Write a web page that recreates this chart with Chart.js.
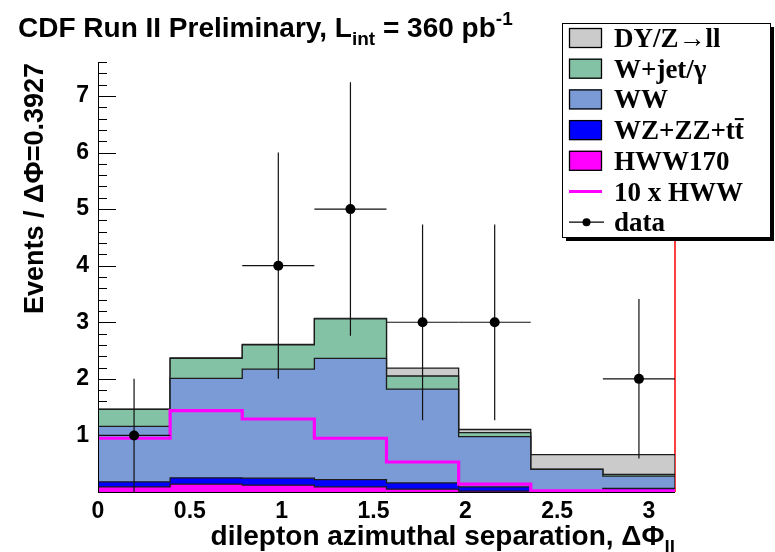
<!DOCTYPE html>
<html>
<head>
<meta charset="utf-8">
<script src="https://cdn.jsdelivr.net/npm/chart.js@4.4.1/dist/chart.umd.min.js"></script>
<style>
  html, body { margin: 0; padding: 0; background: #ffffff; }
  #c { display: block; }
</style>
</head>
<body>
<canvas id="c" width="775" height="552"></canvas>
<script>
// Bin edges in delta-phi (8 bins of 0.3927 rad between 0 and pi)
const binEdges = [0, 0.3927, 0.7854, 1.1781, 1.5708, 1.9635, 2.3562, 2.7489, 3.1416];

// Expected events per bin, by process (stacked bottom to top)
const hww170   = [0.09, 0.14, 0.12, 0.09, 0.05, 0.015, 0.002, 0.002];
const wzZzTt   = [0.09, 0.11, 0.125, 0.13, 0.11, 0.075, 0.01, 0.06];
const wwBkg    = [0.98, 1.76, 1.925, 2.14, 1.66, 0.89, 0.388, 0.218];
const wJetGam  = [0.30, 0.35, 0.43, 0.70, 0.23, 0.07, 0.005, 0.03];
const dyZll    = [0.005, 0.01, 0.01, 0.01, 0.14, 0.055, 0.255, 0.35];

// Higgs signal scaled by 10, drawn as an outline
const hwwTimes10 = [0.95, 1.44, 1.29, 0.95, 0.53, 0.14, 0.02, 0.02];

// Observed events and their errors
const dataCounts = [1, 0, 4, 5, 3, 3, 0, 2];
const dataErrors = [1.0, 0, 2.0, 2.24, 1.73, 1.73, 0, 1.41];

// Axis ticks
const xTickValues = [0, 0.5, 1, 1.5, 2, 2.5, 3];
const yTickValues = [1, 2, 3, 4, 5, 6, 7];

const FONT_SANS = '"Liberation Sans", Arial, sans-serif';
const FONT_SERIF = '"Liberation Serif", "Times New Roman", serif';

// cumulative sums for the stack
function addArrays(a, b) { return a.map((v, i) => v + b[i]); }
const cumHww = hww170.slice();
const cumWz  = addArrays(cumHww, wzZzTt);
const cumWw  = addArrays(cumWz, wwBkg);
const cumWj  = addArrays(cumWw, wJetGam);
const cumDy  = addArrays(cumWj, dyZll);

// histogram outline points (closed down to zero at both ends)
function stepPoints(vals) {
  const last = binEdges[binEdges.length - 1];
  const pts = [{ x: binEdges[0], y: 0 }];
  vals.forEach((v, i) => pts.push({ x: binEdges[i], y: v }));
  pts.push({ x: last, y: vals[vals.length - 1] });
  pts.push({ x: last, y: 0 });
  return pts;
}
function openStepPoints(vals) {
  const pts = [];
  vals.forEach((v, i) => pts.push({ x: binEdges[i], y: v }));
  pts.push({ x: binEdges[binEdges.length - 1], y: vals[vals.length - 1] });
  return pts;
}

const centers = dataCounts.map((_, i) => (binEdges[i] + binEdges[i + 1]) / 2);
const dataPoints = dataCounts
  .map((n, i) => ({ x: centers[i], y: n, e: dataErrors[i], lo: binEdges[i], hi: binEdges[i + 1] }))
  .filter(p => p.y > 0);

const COLORS = {
  dy: '#cbcbcb',
  wjet: '#84c2a5',
  ww: '#7a9bd5',
  wz: '#0000ff',
  hww: '#ff00ff',
  outline: '#1c1c1c'
};

// 'before' in Chart.js: horizontal at the previous level, then vertical
function histDataset(label, vals, color) {
  return {
    label, data: stepPoints(vals), stepped: 'before', fill: 'origin',
    backgroundColor: color, borderColor: COLORS.outline, borderWidth: 1.3,
    pointRadius: 0, tension: 0
  };
}

// ticks and the red right edge underneath the stack, axis lines on top
const underlayPlugin = {
  id: 'underlay',
  beforeDatasetsDraw(chart) {
    const { ctx, chartArea: a, scales: { y } } = chart;
    ctx.save();
    ctx.strokeStyle = '#000';
    ctx.lineWidth = 1;
    for (let k = 0; k <= 38; k++) {
      const v = k * 0.2;
      const py = Math.round(y.getPixelForValue(v)) + 0.5;
      const major = Math.abs(v - Math.round(v)) < 1e-6;
      const len = major ? 18 : 9;
      ctx.beginPath();
      ctx.moveTo(a.left, py);
      ctx.lineTo(a.left + len, py);
      ctx.stroke();
    }
    ctx.strokeStyle = '#ff0000';
    ctx.lineWidth = 1.5;
    ctx.beginPath();
    ctx.moveTo(a.right, a.top);
    ctx.lineTo(a.right, a.bottom);
    ctx.stroke();
    ctx.restore();
  },
  afterDatasetsDraw(chart) {
    const { ctx, chartArea: a } = chart;
    ctx.save();
    ctx.strokeStyle = '#000';
    ctx.lineWidth = 1;
    ctx.beginPath();
    ctx.moveTo(a.left + 0.5, a.top);
    ctx.lineTo(a.left + 0.5, a.bottom + 0.5);
    ctx.lineTo(a.right, a.bottom + 0.5);
    ctx.stroke();
    ctx.restore();
  }
};

// data error bars drawn just before the data markers
const errorBarPlugin = {
  id: 'errorBars',
  beforeDatasetDraw(chart, args) {
    if (args.meta.label !== 'data') return;
    const { ctx, scales: { x, y } } = chart;
    ctx.save();
    ctx.strokeStyle = '#111';
    ctx.lineWidth = 1.2;
    dataPoints.forEach(p => {
      const px = x.getPixelForValue(p.x);
      const py = y.getPixelForValue(p.y);
      ctx.beginPath();
      ctx.moveTo(px, y.getPixelForValue(Math.max(0, p.y - p.e)));
      ctx.lineTo(px, y.getPixelForValue(p.y + p.e));
      ctx.moveTo(x.getPixelForValue(p.lo), py);
      ctx.lineTo(x.getPixelForValue(p.hi), py);
      ctx.stroke();
    });
    ctx.restore();
  }
};

// text runs with sub/superscripts
function drawRich(ctx, parts, x, y, baseSize, family, align) {
  const fontFor = m => 'bold ' + (m ? Math.round(baseSize * 0.68) : baseSize) + 'px ' + family;
  const widths = parts.map(([t, m]) => { ctx.font = fontFor(m); return ctx.measureText(t).width; });
  const total = widths.reduce((s, w) => s + w, 0);
  let cx = align === 'right' ? x - total : x;
  parts.forEach(([t, m], i) => {
    ctx.font = fontFor(m);
    const dy = m === 'sub' ? baseSize * 0.28 : (m === 'sup' ? -baseSize * 0.42 : 0);
    ctx.fillText(t, cx, y + dy);
    cx += widths[i];
  });
}

const annotationPlugin = {
  id: 'annotations',
  afterDraw(chart) {
    const { ctx, chartArea: a } = chart;
    ctx.save();
    ctx.fillStyle = '#000';
    ctx.textBaseline = 'alphabetic';
    ctx.textAlign = 'left';

    // main title
    drawRich(ctx, [['CDF Run II Preliminary, L', ''], ['int', 'sub'], [' = 360 pb', ''], ['-1', 'sup']],
      18, 37, 28, FONT_SANS, 'left');

    // x-axis title
    drawRich(ctx, [['dilepton azimuthal separation, ', ''], ['\u0394\u03a6', ''], ['ll', 'sub']],
      a.right, 545, 28, FONT_SANS, 'right');

    // y-axis title
    ctx.save();
    ctx.translate(43, a.top + 1);
    ctx.rotate(-Math.PI / 2);
    ctx.textAlign = 'right';
    ctx.font = 'bold 27px ' + FONT_SANS;
    ctx.fillText('Events / \u0394\u03a6=0.3927', 0, 0);
    ctx.restore();

    // legend box with shadow
    const L = { x: 562, y: 23, w: 208, h: 214 };
    ctx.fillStyle = '#000';
    ctx.fillRect(L.x + 4, L.y + 4, L.w, L.h);
    ctx.fillStyle = '#fff';
    ctx.fillRect(L.x, L.y, L.w, L.h);
    ctx.strokeStyle = '#000';
    ctx.lineWidth = 1;
    ctx.strokeRect(L.x + 0.5, L.y + 0.5, L.w, L.h);

    const rows = [
      { type: 'box', color: COLORS.dy, text: 'DY/Z\u2192ll' },
      { type: 'box', color: COLORS.wjet, text: 'W+jet/\u03b3' },
      { type: 'box', color: COLORS.ww, text: 'WW' },
      { type: 'box', color: COLORS.wz, text: 'WZ+ZZ+tt', bar: true },
      { type: 'box', color: COLORS.hww, text: 'HWW170' },
      { type: 'line', color: COLORS.hww, text: '10 x HWW' },
      { type: 'marker', color: '#000', text: 'data' }
    ];
    const sx = 569, sw = 33, sh = 20, tx = 614;
    ctx.font = 'bold 27px ' + FONT_SERIF;
    rows.forEach((r, i) => {
      const cy = 38 + i * 30.7;
      if (r.type === 'box') {
        ctx.fillStyle = r.color;
        ctx.fillRect(sx, cy - sh / 2, sw, sh);
        ctx.strokeStyle = '#000';
        ctx.lineWidth = 1.3;
        ctx.strokeRect(sx + 0.5, cy - sh / 2 + 0.5, sw - 1, sh - 1);
      } else if (r.type === 'line') {
        ctx.strokeStyle = r.color;
        ctx.lineWidth = 3;
        ctx.beginPath();
        ctx.moveTo(sx, cy); ctx.lineTo(sx + sw, cy);
        ctx.stroke();
      } else {
        ctx.strokeStyle = '#000';
        ctx.lineWidth = 1.2;
        ctx.beginPath();
        ctx.moveTo(sx, cy); ctx.lineTo(sx + sw + 2, cy);
        ctx.stroke();
        ctx.fillStyle = '#000';
        ctx.beginPath();
        ctx.arc(sx + sw / 2 + 1, cy, 4, 0, Math.PI * 2);
        ctx.fill();
      }
      ctx.fillStyle = '#000';
      ctx.textAlign = 'left';
      ctx.fillText(r.text, tx, cy + 9);
      if (r.bar) {
        const wFull = ctx.measureText(r.text).width;
        const wT = ctx.measureText('t').width;
        ctx.fillRect(tx + wFull - wT, cy - 12, wT, 2);
      }
    });
    ctx.restore();
  }
};

new Chart(document.getElementById('c'), {
  type: 'line',
  data: {
    datasets: [
      {
        label: 'data', type: 'scatter', data: dataPoints, showLine: false,
        pointRadius: 5, pointHoverRadius: 5, pointBackgroundColor: '#000', pointBorderColor: '#000', pointBorderWidth: 0
      },
      {
        label: '10 x HWW', data: openStepPoints(hwwTimes10), stepped: 'before', fill: false,
        borderColor: COLORS.hww, borderWidth: 3.2, pointRadius: 0, tension: 0
      },
      histDataset('HWW170', cumHww, COLORS.hww),
      histDataset('WZ+ZZ+tt', cumWz, COLORS.wz),
      histDataset('WW', cumWw, COLORS.ww),
      histDataset('W+jet/gamma', cumWj, COLORS.wjet),
      histDataset('DY/Z->ll', cumDy, COLORS.dy)
    ]
  },
  options: {
    responsive: false,
    animation: false,
    events: [],
    layout: { padding: { top: 62, right: 100, left: 0, bottom: 0 } },
    plugins: {
      legend: { display: false },
      title: { display: false },
      tooltip: { enabled: false },
      filler: { drawTime: 'beforeDatasetDraw' }
    },
    scales: {
      x: {
        type: 'linear', min: 0, max: binEdges[binEdges.length - 1],
        afterBuildTicks: s => { s.ticks = xTickValues.map(v => ({ value: v })); },
        afterFit: s => { s.height = 60; },
        grid: { display: false, drawTicks: false },
        border: { display: false },
        ticks: {
          autoSkip: false, maxRotation: 0, padding: 6, color: '#000',
          font: { family: FONT_SANS, size: 23, weight: 'bold' },
          callback: v => String(v)
        }
      },
      y: {
        type: 'linear', min: 0, max: 7.6,
        afterBuildTicks: s => { s.ticks = yTickValues.map(v => ({ value: v })); },
        afterFit: s => { s.width = 98; },
        grid: { display: false, drawTicks: false },
        border: { display: false },
        ticks: {
          padding: 9, color: '#000',
          font: { family: FONT_SANS, size: 23, weight: 'bold' },
          callback: v => String(v)
        }
      }
    }
  },
  plugins: [underlayPlugin, errorBarPlugin, annotationPlugin]
});
</script>
</body>
</html>
